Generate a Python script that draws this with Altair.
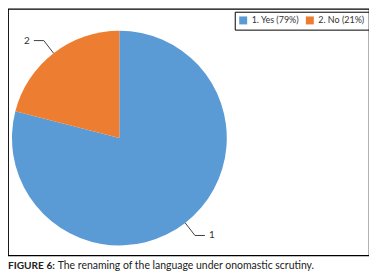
import altair as alt
import pandas as pd
import numpy as np

categories = ["1. Yes", "2. No"]
shares = [79, 21]
slice_labels = ["1", "2"]
colors = ["#5B9BD5", "#ED7D31"]
caption_bold = "FIGURE 6:"
caption_rest = "The renaming of the language under onomastic scrutiny."

W, H = 363, 248
cx, cy, R = 112, 130, 108
FONT = "Lato"

legend_names = [f"{c} ({v}%)" for c, v in zip(categories, shares)]
df = pd.DataFrame({"cat": legend_names, "value": shares, "order": list(range(len(shares)))})

# leader lines computed from slice mid-angles
total = sum(shares)
cum = np.cumsum([0] + shares)
rows, lab = [], []
for i, v in enumerate(shares):
    mid = (cum[i] + v / 2) / total * 2 * np.pi
    s, c = np.sin(mid), np.cos(mid)
    p0 = (cx + R * s, cy - R * c)
    p1 = (cx + (R + 16) * s, cy - (R + 16) * c)
    d = 1 if s >= 0 else -1
    p2 = (p1[0] + 10 * d, p1[1])
    for k, p in enumerate([p0, p1, p2]):
        rows.append({"sl": i, "k": k, "x": p[0], "y": p[1]})
    lab.append({"t": slice_labels[i], "x": p2[0] + 4 * d, "y": p2[1], "align": "left" if d > 0 else "right"})
lines_df = pd.DataFrame(rows)
lab_df = pd.DataFrame(lab)

xs = alt.Scale(domain=[0, W], nice=False, zero=False)
ys = alt.Scale(domain=[0, H], nice=False, zero=False, reverse=True)

pie = alt.Chart(df).mark_arc(radius=R).encode(
    theta=alt.Theta("value:Q", stack=True),
    color=alt.Color("cat:N", scale=alt.Scale(domain=legend_names, range=colors),
                    legend=alt.Legend(orient="none", legendX=228, legendY=3, direction="horizontal",
                                      title=None, strokeColor="black", padding=4,
                                      symbolType="square", symbolSize=64, symbolStrokeWidth=0,
                                      labelFont=FONT, labelFontSize=9, labelColor="#333333",
                                      columnPadding=6, symbolOffset=0)),
    order=alt.Order("order:Q"),
    x=alt.value(cx), y=alt.value(cy),
)

leaders = alt.Chart(lines_df).mark_line(color="#404040", strokeWidth=1).encode(
    x=alt.X("x:Q", scale=xs, axis=None),
    y=alt.Y("y:Q", scale=ys, axis=None),
    detail="sl:N",
    order="k:Q",
)

labels_r = alt.Chart(lab_df[lab_df["align"] == "left"]).mark_text(align="left", baseline="middle", font=FONT, fontSize=10, color="#333333").encode(
    x=alt.X("x:Q", scale=xs, axis=None), y=alt.Y("y:Q", scale=ys, axis=None), text="t:N")
labels_l = alt.Chart(lab_df[lab_df["align"] == "right"]).mark_text(align="right", baseline="middle", font=FONT, fontSize=10, color="#333333").encode(
    x=alt.X("x:Q", scale=xs, axis=None), y=alt.Y("y:Q", scale=ys, axis=None), text="t:N")

cap1 = alt.Chart(pd.DataFrame({"t": [caption_bold]})).mark_text(
    align="left", baseline="middle", font=FONT, fontSize=10.2, fontWeight="bold", color="#222222").encode(
    x=alt.value(0), y=alt.value(259), text="t:N")
cap2 = alt.Chart(pd.DataFrame({"t": [caption_rest]})).mark_text(
    align="left", baseline="middle", font=FONT, fontSize=10.5, color="#222222").encode(
    x=alt.value(50), y=alt.value(259), text="t:N")

chart = alt.layer(pie, leaders, labels_r, labels_l, cap1, cap2).properties(
    width=W, height=H, autosize=alt.AutoSizeParams(type="none"),
    padding={"left": 0, "top": 0, "right": 0, "bottom": 23},
).configure_view(stroke="black", strokeWidth=1.2)

chart.save("out.html", embed_options={"renderer": "svg", "actions": False})
